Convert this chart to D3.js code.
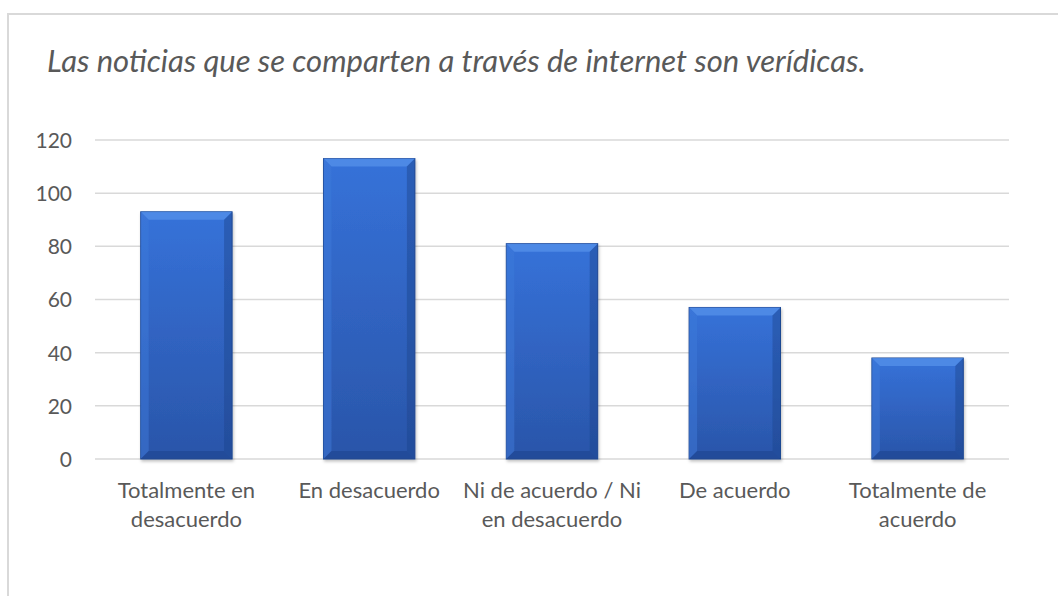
<!DOCTYPE html>
<html>
<head>
<meta charset="utf-8">
<script src="https://cdn.jsdelivr.net/npm/d3@7"></script>
<style>
  html, body { margin: 0; padding: 0; background: #fff; }
  svg text { font-family: Lato, "Open Sans", sans-serif; fill: #595959; }
</style>
</head>
<body>
<div id="chart"></div>
<script>
// chart data
var categories = [
    ["Totalmente en", "desacuerdo"],
    ["En desacuerdo"],
    ["Ni de acuerdo / Ni", "en desacuerdo"],
    ["De acuerdo"],
    ["Totalmente de", "acuerdo"]
];
var values = [93, 113, 81, 57, 38];
var yTicks = [0, 20, 40, 60, 80, 100, 120];
var title = "Las noticias que se comparten a través de internet son verídicas.";

var W = 1058, H = 596;
var margin = { left: 95, right: 49, top: 140, bottom: 137 };
var BEVEL = 8;

var svg = d3.select("#chart").append("svg")
    .attr("width", W)
    .attr("height", H);

var defs = svg.append("defs");

var grad = defs.append("linearGradient")
    .attr("id", "barFill")
    .attr("x1", 0).attr("y1", 0)
    .attr("x2", 0).attr("y2", 1);
grad.append("stop").attr("offset", "0%").attr("stop-color", "#3672d9");
grad.append("stop").attr("offset", "100%").attr("stop-color", "#2a55a9");

var shadow = defs.append("filter")
    .attr("id", "shadow")
    .attr("x", "-10%").attr("y", "-10%")
    .attr("width", "120%").attr("height", "120%");
shadow.append("feDropShadow")
    .attr("dx", 1).attr("dy", 2)
    .attr("stdDeviation", 1.5)
    .attr("flood-color", "#000")
    .attr("flood-opacity", 0.25);

// chart frame
svg.append("path")
    .attr("d", "M8,596 L8,14 L1058,14")
    .attr("fill", "none")
    .attr("stroke", "#d9d9d9")
    .attr("stroke-width", 2);

svg.append("text")
    .attr("x", 47)
    .attr("y", 72)
    .attr("font-size", 31)
    .attr("font-style", "italic")
    .text(title);

var x = d3.scaleBand()
    .domain(d3.range(categories.length))
    .range([margin.left, W - margin.right])
    .paddingInner(0.5)
    .paddingOuter(0.25);

var y = d3.scaleLinear()
    .domain([0, 120])
    .range([H - margin.bottom, margin.top]);

// gridlines
svg.append("g")
    .selectAll("line")
    .data(yTicks)
    .join("line")
    .attr("x1", margin.left)
    .attr("x2", W - margin.right)
    .attr("y1", function(d) { return y(d); })
    .attr("y2", function(d) { return y(d); })
    .attr("stroke", "#d9d9d9")
    .attr("stroke-width", 1.5);

// y axis labels
var yAxis = d3.axisLeft(y).tickValues(yTicks).tickSize(0).tickPadding(0);
var yg = svg.append("g")
    .attr("transform", "translate(72,0)")
    .call(yAxis);
yg.select(".domain").remove();
yg.selectAll("text")
    .attr("font-size", 21)
    .attr("dy", "0.35em")
    .style("font-family", "Lato, 'Open Sans', sans-serif")
    .attr("fill", "#595959");

// bars
var bars = svg.append("g")
    .selectAll("g")
    .data(values)
    .join("g")
    .attr("filter", "url(#shadow)");

bars.append("rect")
    .attr("x", function(d, i) { return x(i); })
    .attr("y", function(d) { return y(d); })
    .attr("width", x.bandwidth())
    .attr("height", function(d) { return y(0) - y(d); })
    .attr("fill", "url(#barFill)")
    .attr("stroke", "#214a94")
    .attr("stroke-width", 1);

// bevel faces
function bevel(d, i, side) {
    var x0 = x(i), x1 = x(i) + x.bandwidth();
    var y0 = y(d), y1 = y(0);
    var b = BEVEL;
    if (side === "top") return [[x0, y0], [x1, y0], [x1 - b, y0 + b], [x0 + b, y0 + b]];
    if (side === "left") return [[x0, y0], [x0 + b, y0 + b], [x0 + b, y1 - b], [x0, y1]];
    if (side === "right") return [[x1, y0], [x1 - b, y0 + b], [x1 - b, y1 - b], [x1, y1]];
    return [[x0, y1], [x0 + b, y1 - b], [x1 - b, y1 - b], [x1, y1]];
}
var faces = [
    { side: "top", color: "#5591ea", op: 0.75 },
    { side: "left", color: "#3d7ad9", op: 0.5 },
    { side: "right", color: "#1d448c", op: 0.45 },
    { side: "bottom", color: "#1c418a", op: 0.5 }
];
faces.forEach(function(f) {
    bars.append("polygon")
        .attr("points", function(d, i) {
            return bevel(d, i, f.side).map(function(p) { return p.join(","); }).join(" ");
        })
        .attr("fill", f.color)
        .attr("fill-opacity", f.op);
});

// x axis labels
var xl = svg.append("g")
    .selectAll("text")
    .data(categories)
    .join("text")
    .attr("x", function(d, i) { return x(i) + x.bandwidth() / 2; })
    .attr("y", 498)
    .attr("text-anchor", "middle")
    .attr("font-size", 22);

xl.selectAll("tspan")
    .data(function(d) { return d; })
    .join("tspan")
    .attr("x", function() { return d3.select(this.parentNode).attr("x"); })
    .attr("dy", function(d, j) { return j === 0 ? 0 : 29; })
    .text(function(d) { return d; });
</script>
</body>
</html>
